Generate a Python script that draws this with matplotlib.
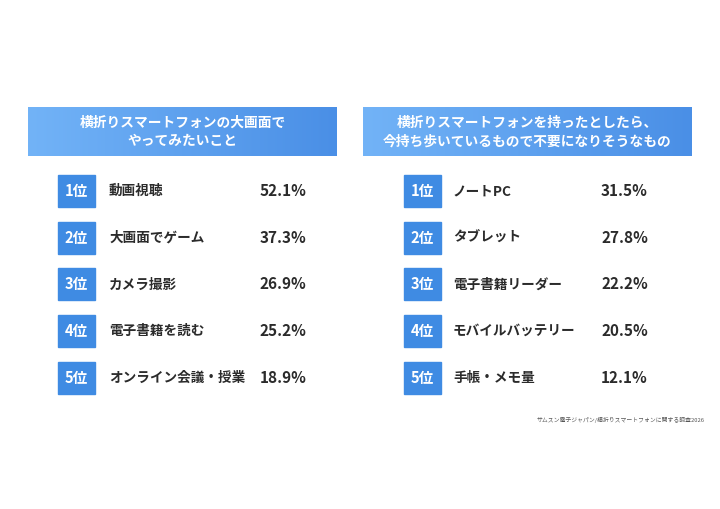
import matplotlib
matplotlib.use("Agg")
import matplotlib.pyplot as plt
import numpy as np
from matplotlib.patches import Rectangle
from matplotlib.colors import LinearSegmentedColormap

plt.rcParams['font.family'] = ['Noto Sans CJK JP', 'DejaVu Sans']

# data
left_title = "横折りスマートフォンの大画面で\nやってみたいこと"
left_items = ["動画視聴", "大画面でゲーム", "カメラ撮影", "電子書籍を読む", "オンライン会議・授業"]
left_values = [52.1, 37.3, 26.9, 25.2, 18.9]

right_title = "横折りスマートフォンを持ったとしたら、\n今持ち歩いているもので不要になりそうなもの"
right_items = ["ノートPC", "タブレット", "電子書籍リーダー", "モバイルバッテリー", "手帳・メモ量"]
right_values = [31.5, 27.8, 22.2, 20.5, 12.1]

ranks = ["1位", "2位", "3位", "4位", "5位"]
source = "サムスン電子ジャパン/横折りスマートフォンに関する調査2026"

fig = plt.figure(figsize=(7.2, 5.09), dpi=100)
ax = fig.add_axes([0, 0, 1, 1])
ax.set_xlim(0, 720)
ax.set_ylim(509, 0)
ax.axis("off")

grad = LinearSegmentedColormap.from_list("hdr", ["#72b3f7", "#4a8fe6"])
rank_color = "#3f8be3"
text_color = "#2b2b2b"


def panel(x0, x1, title, items, values, box_x, label_x, pct_x):
    # header with gradient
    g = np.linspace(0, 1, 256).reshape(1, -1)
    ax.imshow(g, cmap=grad, extent=(x0, x1, 156, 107), aspect="auto", zorder=1)
    ax.text((x0 + x1) / 2, 132, title, ha="center", va="center", color="white",
            fontsize=9.9, fontweight="bold", linespacing=1.4, zorder=2)
    for i, (r, name, v) in enumerate(zip(ranks, items, values)):
        yc = 191 + i * 46.7
        ax.add_patch(Rectangle((box_x, yc - 16), 37, 32, color=rank_color, zorder=2))
        ax.text(box_x + 18.5, yc, r, ha="center", va="center", color="white",
                fontsize=10.5, fontweight="bold", zorder=3)
        ax.text(label_x, yc, name, ha="left", va="center", color=text_color,
                fontsize=9.8, fontweight="bold", zorder=3)
        ax.text(pct_x, yc, "%.1f%%" % v, ha="left", va="center", color=text_color,
                fontsize=11, fontweight="bold", zorder=3)


panel(28, 337, left_title, left_items, left_values, 58, 109, 260)
panel(363, 692, right_title, right_items, right_values, 404, 453, 601)

ax.text(705, 420, source, ha="right", va="center", color="#555555", fontsize=4.2)

fig.savefig("out.png", dpi=100)
